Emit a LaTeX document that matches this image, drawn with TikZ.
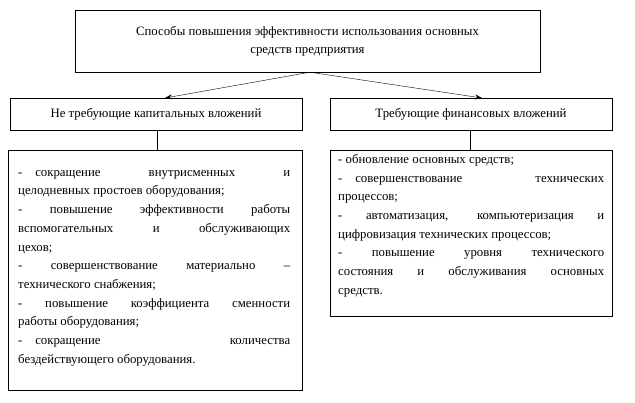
\documentclass[tikz,border=0pt]{standalone}
\usepackage{fontspec}
\setmainfont{Liberation Serif}
\usetikzlibrary{arrows.meta}
\begin{document}
\begin{tikzpicture}[x=1pt,y=-1pt,
  box/.style={draw,inner sep=0pt,font=\fontsize{12.8}{15}\selectfont},
  txt/.style={anchor=north west,inner sep=0pt,text width=#1,align=justify,font=\fontsize{12.8}{18.7}\selectfont},
  arr/.style={-{Stealth[length=7pt,width=5pt]}}]
\useasboundingbox (0,0) rectangle (635,402);
\node[box,minimum width=465,minimum height=62,align=center] (top) at (307.5,41) {Способы повышения эффективности использования основных\\[3pt]средств предприятия};
\node[box,minimum width=292,minimum height=32] (l) at (156,114) {Не требующие капитальных вложений};
\node[box,minimum width=282,minimum height=32] (r) at (471,114) {Требующие финансовых вложений};
\node[draw,minimum width=294,minimum height=240,inner sep=0pt] (lb) at (155,270) {};
\node[draw,minimum width=282,minimum height=166,inner sep=0pt] (rb) at (471,233) {};
\coordinate (c) at (top.south -| 310,0);
\draw[arr] (c) -- (165,98);
\draw[arr] (c) -- (482,98);
\draw (l.south -| 157,0) -- (lb.north -| 157,0);
\draw (r.south -| 470,0) -- (rb.north -| 470,0);
\node[txt=272] (lt) at (18,170) {-\quad сокращение внутрисменных и\linebreak
целодневных простоев оборудования;\\
- повышение эффективности работы\linebreak
вспомогательных и обслуживающих\linebreak
цехов;\\
- совершенствование материально –\linebreak
технического снабжения;\\
- повышение коэффициента сменности\linebreak
работы оборудования;\\
-\quad сокращение количества\linebreak
бездействующего оборудования.};
\node[txt=266] (rt) at (338,154) {- обновление основных средств;\\
-\quad совершенствование технических\linebreak
процессов;\\
- автоматизация, компьютеризация и\linebreak
цифровизация технических процессов;\\
- повышение уровня технического\linebreak
состояния и обслуживания основных\linebreak
средств.};
\end{tikzpicture}
\end{document}
